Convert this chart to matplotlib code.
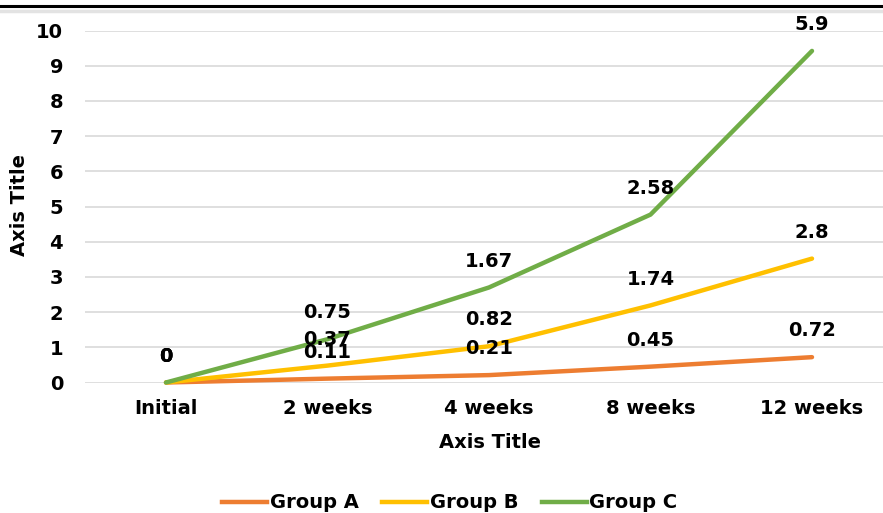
import numpy as np
import matplotlib.pyplot as plt
from matplotlib.lines import Line2D

categories = ['Initial', '2 weeks', '4 weeks', '8 weeks', '12 weeks']
group_a = [0, 0.11, 0.21, 0.45, 0.72]
group_b = [0, 0.37, 0.82, 1.74, 2.8]
group_c = [0, 0.75, 1.67, 2.58, 5.9]
series_names = ['Group A', 'Group B', 'Group C']
colors = ['#ED7D31', '#FFC000', '#70AD47']

plt.rcParams['font.family'] = 'DejaVu Sans'
plt.rcParams['font.weight'] = 'bold'
fs = 14

W, H = 883, 513
fig = plt.figure(figsize=(W / 100, H / 100), dpi=100)
ax_left, ax_right = 85.25, 892.75
ax_top, ax_bot = 30.5, 382.5
ax = fig.add_axes([ax_left / W, 1 - ax_bot / H, (ax_right - ax_left) / W, (ax_bot - ax_top) / H])

x = np.arange(len(categories))
# stacked lines: each group sits on top of the previous ones
stacked = np.cumsum([group_a, group_b, group_c], axis=0)

ax.set_xlim(-0.5, len(categories) - 0.5)
ax.set_ylim(0, 10)
ax.set_yticks(range(0, 11))
ax.set_xticks(x)
ax.set_xticklabels(categories)
ax.yaxis.grid(True, color='#d9d9d9', linewidth=1.2)
ax.set_axisbelow(True)
for s in ax.spines.values():
    s.set_visible(False)
ax.tick_params(axis='both', length=0, labelsize=fs)
ax.tick_params(axis='y', pad=16)
ax.tick_params(axis='x', pad=12)

for k in range(3):
    ax.plot(x, stacked[k], color=colors[k], linewidth=3.2, solid_capstyle='round',
            solid_joinstyle='round', zorder=3 + k, clip_on=False)

vals = [group_a, group_b, group_c]
for k in range(3):
    for i in range(len(categories)):
        ax.annotate(f'{vals[k][i]:g}', (x[i], stacked[k][i]), xytext=(0, 19),
                    textcoords='offset points', ha='center', va='center',
                    fontsize=fs, fontweight='bold', color='black', zorder=10,
                    annotation_clip=False)

fig.text(490 / W, 1 - 443 / H, 'Axis Title', ha='center', va='center', fontsize=fs, fontweight='bold')
fig.text(20 / W, 1 - 205 / H, 'Axis Title', ha='center', va='center', rotation=90,
         fontsize=fs, fontweight='bold')

handles = [Line2D([], [], color=c, linewidth=3.2) for c in colors]
fig.legend(handles, series_names, loc='center', bbox_to_anchor=(450 / W, 1 - 503 / H),
           ncol=3, frameon=False, fontsize=fs, handlelength=2.3, handletextpad=0.15,
           columnspacing=1.2)

# top border of the frame
fig.add_artist(Line2D([0, 1], [1 - 6 / H, 1 - 6 / H], color='black', linewidth=2.2))
fig.add_artist(Line2D([0, 1], [1 - 11 / H, 1 - 11 / H], color='#e3e3e3', linewidth=2.5))

fig.savefig('out.png', dpi=100)
